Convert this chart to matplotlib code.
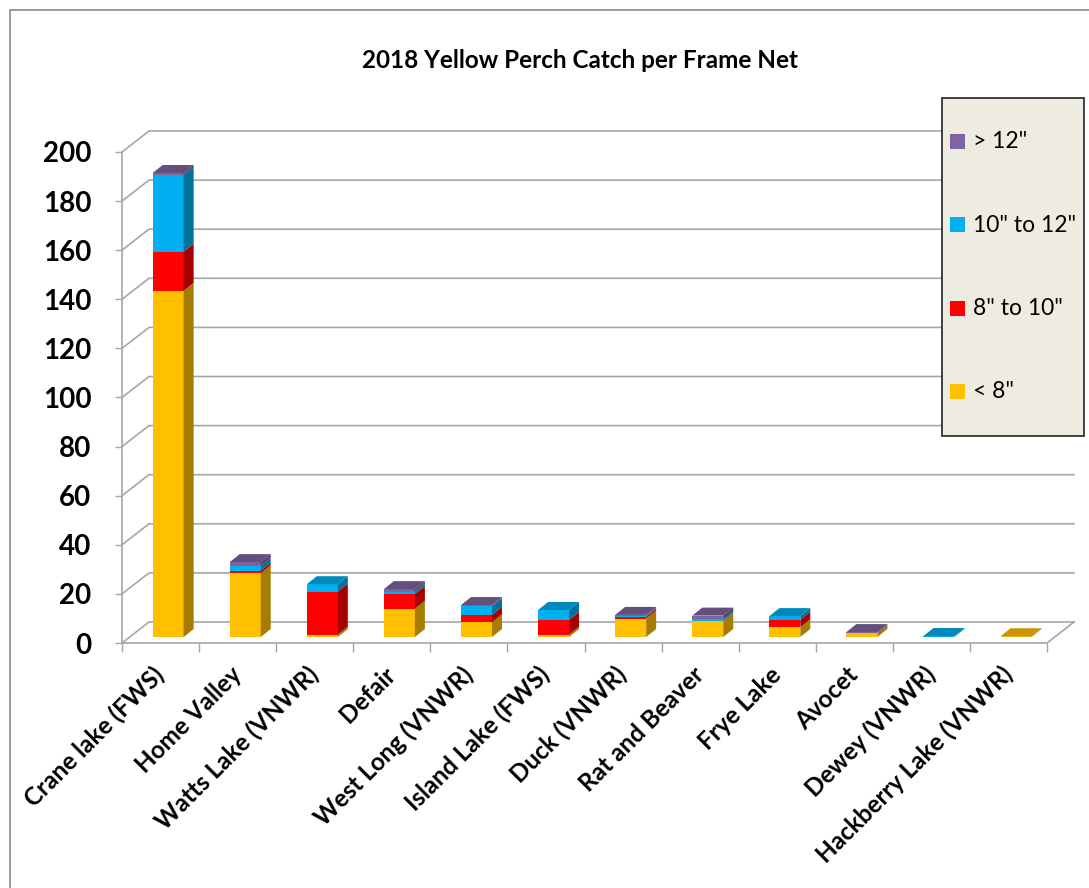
import numpy as np
import matplotlib.pyplot as plt
from matplotlib.patches import Polygon, Rectangle
from matplotlib.colors import to_rgb

plt.rcParams['font.family'] = ['Lato', 'DejaVu Sans']

# data
lakes = ['Crane lake (FWS)', 'Home Valley', 'Watts Lake (VNWR)', 'Defair',
         'West Long (VNWR)', 'Island Lake (FWS)', 'Duck (VNWR)', 'Rat and Beaver',
         'Frye Lake', 'Avocet', 'Dewey (VNWR)', 'Hackberry Lake (VNWR)']
under8 = [141, 26, 1, 11.5, 6, 1, 7.5, 6.5, 4, 1.5, 0.1, 0.3]
in8_10 = [16, 1, 17.5, 6, 3, 6, 0.7, 0, 3, 0, 0, 0]
in10_12 = [31, 2, 3, 1, 3.5, 4, 0.3, 0.7, 1.5, 0, 0.3, 0]
over12 = [1, 1.5, 0, 1, 0.5, 0, 0.5, 1.5, 0, 0.5, 0, 0]
series = [under8, in8_10, in10_12, over12]
names = ['< 8"', '8" to 10"', '10" to 12"', '> 12"']
colors = ['#FFC000', '#FF0000', '#00B0F0', '#8064A2']
yticks = list(range(0, 201, 20))

W, H = 1089, 888
fig = plt.figure(figsize=(W / 100, H / 100), dpi=100)

# front edge of the floor / left wall, in pixels
x0, x1, y0, y1 = 122, 1047, 643, 152
ax = fig.add_axes([x0 / W, 1 - y0 / H, (x1 - x0) / W, (y0 - y1) / H])
n = len(lakes)
ax.set_xlim(0, n)
ax.set_ylim(0, 200)
ppx = (x1 - x0) / n
ppy = (y0 - y1) / 200.0

def off(px, py):
    return px / ppx, py / ppy

bdx, bdy = off(27, 21)     # back wall offset
pdx, pdy = off(7.6, 6)     # plane the bars sit in
sdx, sdy = off(10, 8)      # bar depth
bw = 31 / ppx

grid = '#A6A6A6'
for v in yticks:
    ax.plot([0, bdx, n + bdx], [v, v + bdy, v + bdy], color=grid, lw=1.2,
            clip_on=False, zorder=1)
ax.plot([0, 0], [0, 200], color=grid, lw=1.2, clip_on=False, zorder=1)
ax.plot([0, n, n + bdx], [0, 0, bdy], color=grid, lw=1.2, clip_on=False, zorder=1)

xs = np.arange(n) + 0.5 + pdx
cum = np.zeros(n)
tops = [max([k for k in range(4) if series[k][i] > 0], default=-1) for i in range(n)]
for k, vals in enumerate(series):
    vals = np.array(vals, dtype=float)
    base = np.array(to_rgb(colors[k]))
    ax.bar(xs, vals, bottom=pdy + cum, width=bw, color=colors[k],
           linewidth=0, zorder=3, clip_on=False)
    for i in range(n):
        if vals[i] <= 0:
            continue
        b = pdy + cum[i]
        t = b + vals[i]
        xl, xr = xs[i] - bw / 2, xs[i] + bw / 2
        ax.add_patch(Polygon([(xr, b), (xr + sdx, b + sdy), (xr + sdx, t + sdy), (xr, t)],
                             closed=True, facecolor=base * 0.65, lw=0, zorder=3,
                             clip_on=False))
        if tops[i] == k:
            ax.add_patch(Polygon([(xl, t), (xr, t), (xr + sdx, t + sdy), (xl + sdx, t + sdy)],
                                 closed=True, facecolor=base * 0.78, lw=0, zorder=3,
                                 clip_on=False))
    cum += vals

for s in ax.spines.values():
    s.set_visible(False)
ax.set_yticks(yticks)
ax.set_yticklabels([str(v) for v in yticks], fontsize=20, fontweight='bold')
ax.tick_params(axis='y', length=5, width=1, color=grid, pad=17)
ax.set_xticks(np.arange(n) + 0.5)
ax.set_xticks(np.arange(n + 1), minor=True)
ax.set_xticklabels(lakes, fontsize=17.5, fontweight='bold')
ax.tick_params(axis='x', which='major', length=0, pad=20)
ax.tick_params(axis='x', which='minor', length=6.5, width=1, color=grid)
plt.setp(ax.get_xticklabels(), rotation=45, ha='right', va='center',
         rotation_mode='anchor')

fig.text(580 / W, 1 - 60 / H, '2018 Yellow Perch Catch per Frame Net',
         ha='center', va='center', fontsize=17.5, fontweight='bold')

# legend box, drawn by hand
lx0, ly0, lx1, ly1 = 942, 98, 1084, 436
fig.add_artist(Rectangle((lx0 / W, 1 - ly1 / H), (lx1 - lx0) / W, (ly1 - ly0) / H,
                         transform=fig.transFigure, facecolor='#EEECE1',
                         edgecolor='#222222', lw=1.2, zorder=5))
for j, k in enumerate([3, 2, 1, 0]):
    cy = 142 + j * 83.3
    fig.add_artist(Rectangle((950 / W, 1 - (cy + 7) / H), 15 / W, 15 / H,
                             transform=fig.transFigure, facecolor=colors[k],
                             lw=0, zorder=6))
    fig.text(973 / W, 1 - cy / H, names[k], ha='left', va='center',
             fontsize=16.5, zorder=7)

fig.add_artist(Rectangle((10 / W, -0.1), 1.2, 1.1 - 10 / H, transform=fig.transFigure,
                         fill=False, edgecolor='#8C8C8C', lw=1.2))

fig.savefig('out.png', dpi=100)
